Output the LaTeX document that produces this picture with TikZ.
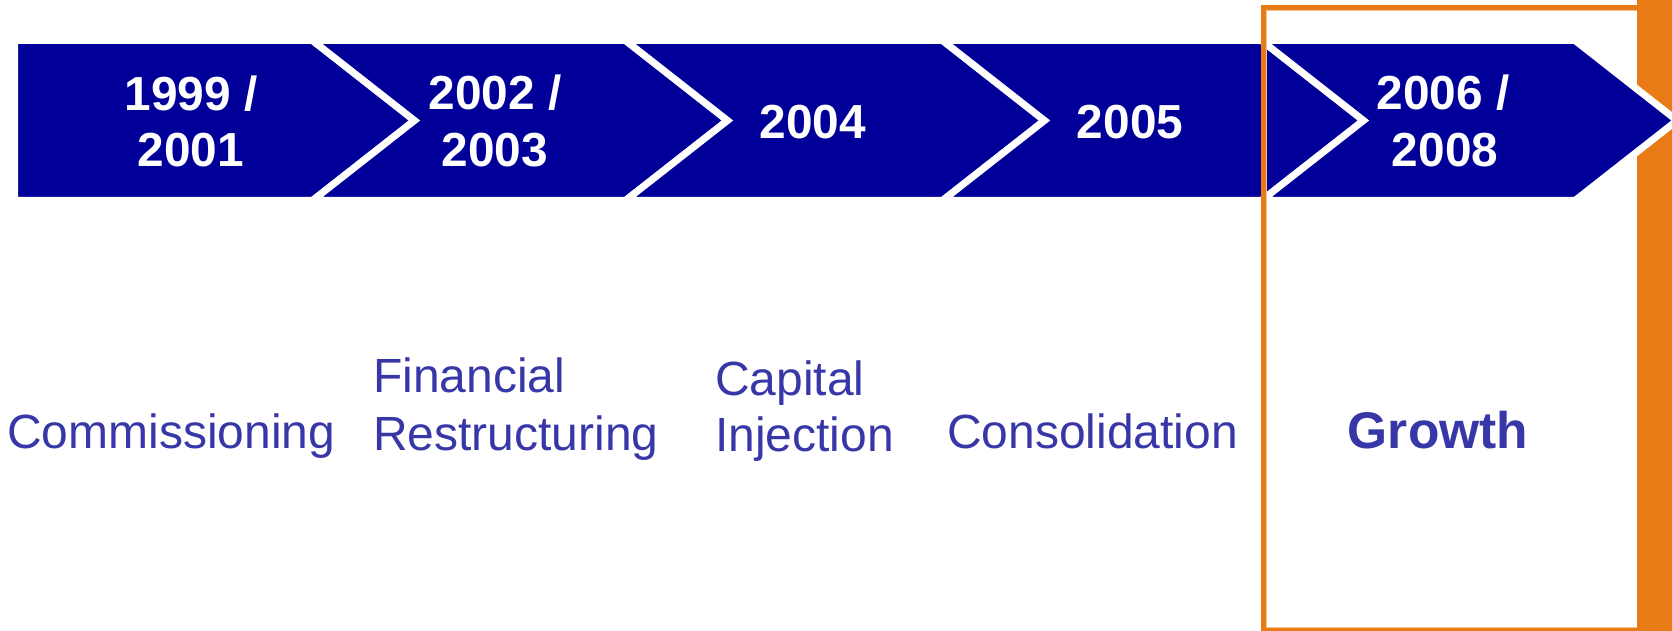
\documentclass[tikz,border=0pt]{standalone}
\usepackage{fontspec}
\setmainfont{Liberation Sans}
\definecolor{barblue}{RGB}{0,0,153}
\definecolor{lblblue}{RGB}{55,55,168}
\definecolor{orng}{RGB}{233,123,22}
\begin{document}
\begin{tikzpicture}[x=1pt,y=-1pt,
  seg/.style={fill=barblue, draw=white, line width=7pt},
  yr/.style={text=white, font=\fontsize{47.8}{57}\selectfont\bfseries, anchor=base, inner sep=0pt},
  lbl/.style={text=lblblue, font=\fontsize{48}{57}\selectfont, anchor=base west, inner sep=0pt},
  lblbold/.style={text=lblblue, font=\fontsize{51.5}{60}\selectfont\bfseries, anchor=base, inner sep=0pt},
  frameline/.style={draw=orng, line width=5pt},
  frameinner/.style={draw=orng!45, line width=1pt}]
\useasboundingbox (0,0) rectangle (1672,631);
% orange band
\fill[orng] (1637,0) rectangle (1672,631);
% chevron segments
\path[seg] (14.5,40.5) -- (312.5,40.5) -- (414.5,120.5) -- (312.5,200.5) -- (14.5,200.5) -- cycle;
\path[seg] (312.5,40.5) -- (625.5,40.5) -- (727.5,120.5) -- (625.5,200.5) -- (312.5,200.5) -- (414.5,120.5) -- cycle;
\path[seg] (625.5,40.5) -- (942.5,40.5) -- (1044.5,120.5) -- (942.5,200.5) -- (625.5,200.5) -- (727.5,120.5) -- cycle;
\path[seg] (942.5,40.5) -- (1261.5,40.5) -- (1363.5,120.5) -- (1261.5,200.5) -- (942.5,200.5) -- (1044.5,120.5) -- cycle;
\path[seg] (1261.5,40.5) -- (1575,40.5) -- (1677,120.5) -- (1575,200.5) -- (1261.5,200.5) -- (1363.5,120.5) -- cycle;
% orange frame
\draw[frameinner] (1266.5,627.5) -- (1266.5,10.5) -- (1636.5,10.5);
\draw[frameinner] (1266.5,627.5) -- (1636.5,627.5);
\draw[frameline, line join=miter] (1263.5,631) -- (1263.5,7.5) -- (1637,7.5);
\draw[frameline] (1261,630) -- (1637,630);
% year labels
\node[yr] (y1a) at (191,110.5) {1999 /};
\node[yr] (y1b) at (191,167) {2001};
\node[yr] (y2a) at (495,110) {2002 /};
\node[yr] (y2b) at (495,166.5) {2003};
\node[yr] (y3) at (813,138.5) {2004};
\node[yr] (y4) at (1130,138.5) {2005};
\node[yr] (y5a) at (1443,110) {2006 /};
\node[yr] (y5b) at (1445,167) {2008};
% phase labels
\node[lbl] (l1) at (7,448) {Commissioning};
\node[lbl] (l2a) at (373,392) {Financial};
\node[lbl] (l2b) at (373,450) {Restructuring};
\node[lbl] (l3a) at (715,395) {Capital};
\node[lbl] (l3b) at (715,451) {Injection};
\node[lbl] (l4) at (947,448) {Consolidation};
\node[lblbold] (l5) at (1438,448) {Growth};
\end{tikzpicture}
\end{document}
